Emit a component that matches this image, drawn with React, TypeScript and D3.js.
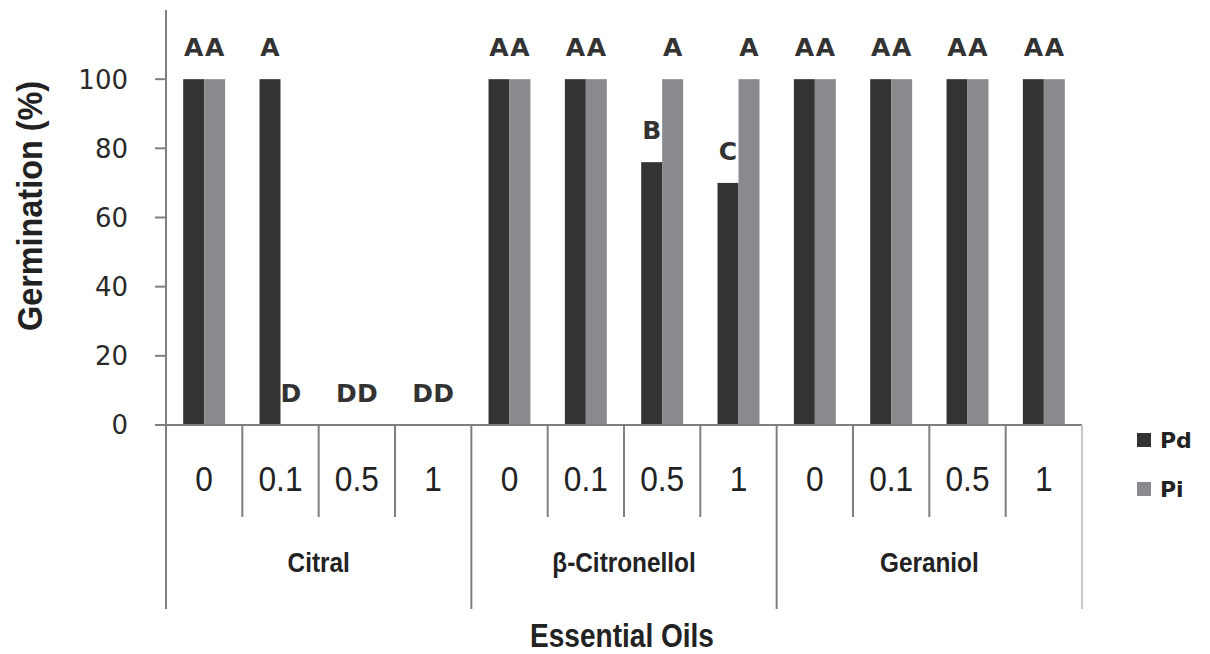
import * as d3 from "d3";
import { useEffect, useRef } from "react";

const oils = ["Citral", "β-Citronellol", "Geraniol"];
const doses = ["0", "0.1", "0.5", "1"];
const seriesNames = ["Pd", "Pi"];

// germination (%) per oil x dose, in order Citral 0..1, β-Citronellol 0..1, Geraniol 0..1
const pdValues = [100, 100, 0, 0, 100, 100, 76, 70, 100, 100, 100, 100];
const piValues = [100, 0, 0, 0, 100, 100, 100, 100, 100, 100, 100, 100];

const pdLetters = ["A", "A", "D", "D", "A", "A", "B", "C", "A", "A", "A", "A"];
const piLetters = ["A", "D", "D", "D", "A", "A", "A", "A", "A", "A", "A", "A"];

const yTicks = [0, 20, 40, 60, 80, 100];

const width = 1210;
const height = 654;
const plot = { left: 166, right: 1082, top: 10, bottom: 425 };
const colors = { Pd: "#333333", Pi: "#898a8d" };
const axisColor = "#7f7f7f";

export default function App() {
  const svgRef = useRef<SVGSVGElement>(null);

  useEffect(() => {
    if (!svgRef.current) return;
    const svg = d3.select(svgRef.current);
    svg.selectAll("*").remove();

    const categories = oils.flatMap((oil) => doses.map((dose) => ({ oil, dose })));
    const idx = categories.map((_, i) => String(i));

    const x = d3.scaleBand<string>()
      .domain(idx)
      .range([plot.left, plot.right])
      .paddingInner(0)
      .paddingOuter(0);

    const xInner = d3.scaleBand<string>()
      .domain(seriesNames)
      .range([0, x.bandwidth()])
      .paddingInner(0)
      .paddingOuter(0.82);

    const y = d3.scaleLinear()
      .domain([0, 120])
      .range([plot.bottom, plot.top]);

    const rows = categories.map((c, i) => ({
      key: String(i),
      Pd: pdValues[i],
      Pi: piValues[i],
      PdL: pdLetters[i],
      PiL: piLetters[i],
    }));

    // bars
    const bars = svg.append("g");
    seriesNames.forEach((s) => {
      bars.selectAll(`rect.${s}`)
        .data(rows)
        .enter()
        .append("rect")
        .attr("x", (d) => (x(d.key) ?? 0) + (xInner(s) ?? 0))
        .attr("y", (d) => y((d as any)[s]))
        .attr("width", xInner.bandwidth())
        .attr("height", (d) => plot.bottom - y((d as any)[s]))
        .attr("fill", (colors as any)[s]);
    });

    // significance letters
    seriesNames.forEach((s) => {
      svg.append("g")
        .selectAll("text")
        .data(rows)
        .enter()
        .append("text")
        .attr("x", (d) => (x(d.key) ?? 0) + (xInner(s) ?? 0) + xInner.bandwidth() / 2)
        .attr("y", (d) => y((d as any)[s]) - 23)
        .attr("text-anchor", "middle")
        .attr("font-family", "DejaVu Sans")
        .attr("font-weight", "bold")
        .attr("font-size", 25)
        .attr("fill", "#333")
        .text((d) => (d as any)[s + "L"]);
    });

    // y axis
    svg.append("line")
      .attr("x1", plot.left).attr("x2", plot.left)
      .attr("y1", plot.top).attr("y2", plot.bottom)
      .attr("stroke", axisColor).attr("stroke-width", 2);

    const yAxis = svg.append("g");
    yAxis.selectAll("line")
      .data(yTicks)
      .enter()
      .append("line")
      .attr("x1", plot.left - 11).attr("x2", plot.left)
      .attr("y1", (d) => y(d)).attr("y2", (d) => y(d))
      .attr("stroke", axisColor).attr("stroke-width", 2);
    yAxis.selectAll("text")
      .data(yTicks)
      .enter()
      .append("text")
      .attr("x", 128)
      .attr("y", (d) => y(d))
      .attr("dy", "0.36em")
      .attr("text-anchor", "end")
      .attr("font-family", "DejaVu Sans")
      .attr("font-size", 26)
      .attr("fill", "#2a2a2a")
      .text((d) => d);

    // x baseline
    svg.append("line")
      .attr("x1", plot.left - 11).attr("x2", plot.right)
      .attr("y1", plot.bottom).attr("y2", plot.bottom)
      .attr("stroke", axisColor).attr("stroke-width", 2);

    // category dividers (short) and group dividers (long)
    const bounds = d3.range(categories.length + 1).map((i) =>
      i < categories.length ? (x(String(i)) ?? 0) : plot.right);
    svg.append("g")
      .selectAll("line")
      .data(bounds)
      .enter()
      .append("line")
      .attr("x1", (d) => d).attr("x2", (d) => d)
      .attr("y1", plot.bottom)
      .attr("y2", (_, i) => (i % doses.length === 0 ? 609 : 517))
      .attr("stroke", (_, i) => (i === categories.length ? "#c8c8c8" : axisColor))
      .attr("stroke-width", 2);

    // dose labels
    svg.append("g")
      .selectAll("text")
      .data(rows)
      .enter()
      .append("text")
      .attr("transform", (d) => `translate(${(x(d.key) ?? 0) + x.bandwidth() / 2},491) scale(0.88,1)`)
      .attr("text-anchor", "middle")
      .attr("font-family", "Liberation Sans")
      .attr("font-size", 36)
      .attr("fill", "#222")
      .text((_, i) => categories[i].dose);

    // oil labels
    svg.append("g")
      .selectAll("text")
      .data(oils)
      .enter()
      .append("text")
      .attr("transform", (_, i) => {
        const a = bounds[i * doses.length];
        const b = bounds[(i + 1) * doses.length];
        return `translate(${(a + b) / 2},572) scale(0.87,1)`;
      })
      .attr("text-anchor", "middle")
      .attr("font-family", "Liberation Sans")
      .attr("font-weight", "bold")
      .attr("font-size", 28)
      .attr("fill", "#222")
      .text((d) => d);

    // axis titles
    svg.append("text")
      .attr("transform", `translate(622,647) scale(0.85,1)`)
      .attr("text-anchor", "middle")
      .attr("font-family", "Liberation Sans")
      .attr("font-weight", "bold")
      .attr("font-size", 33)
      .attr("fill", "#222")
      .text("Essential Oils");

    svg.append("text")
      .attr("transform", `translate(42,206) rotate(-90) scale(0.9,1)`)
      .attr("text-anchor", "middle")
      .attr("font-family", "Liberation Sans")
      .attr("font-weight", "bold")
      .attr("font-size", 36)
      .attr("fill", "#222")
      .text("Germination (%)");

    // legend
    const legend = svg.append("g");
    seriesNames.forEach((s, i) => {
      const ly = 440 + i * 49;
      legend.append("rect")
        .attr("x", 1137).attr("y", ly - 7)
        .attr("width", 14).attr("height", 14)
        .attr("fill", (colors as any)[s]);
      legend.append("text")
        .attr("x", 1160).attr("y", ly)
        .attr("dy", "0.36em")
        .attr("font-family", "DejaVu Sans")
        .attr("font-weight", "bold")
        .attr("font-size", 22)
        .attr("fill", "#222")
        .text(s);
    });
  }, []);

  return (
    <svg
      ref={svgRef}
      width={width}
      height={height}
      style={{ position: "absolute", left: 0, top: 0, background: "#fff" }}
    ></svg>
  );
}
